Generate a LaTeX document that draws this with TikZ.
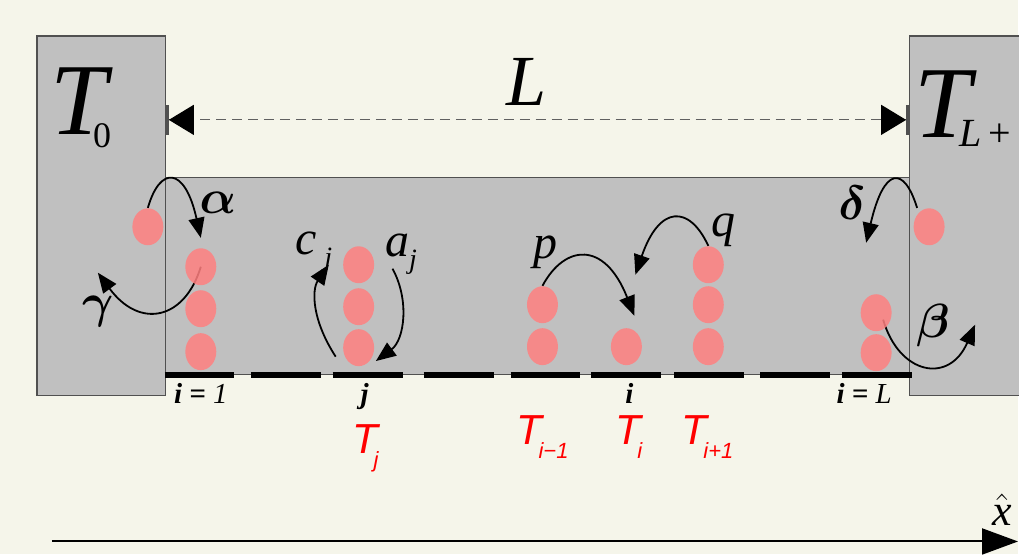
\RequirePackage{fix-cm}
\documentclass[tikz,border=0pt]{standalone}
\usepackage{fontspec}
\usepackage{bm}
\usetikzlibrary{arrows.meta, shapes.geometric, backgrounds}

\newfontfamily\arialfont{Liberation Sans}
\newfontfamily\timesfont{Liberation Serif}

\definecolor{paper}{HTML}{F5F5EA}
\definecolor{resgray}{HTML}{C0C0C0}
\definecolor{edgegray}{HTML}{505050}
\definecolor{dimgray}{HTML}{606060}
\definecolor{dotpink}{HTML}{FF8080}

%% red site temperature with lowered index
\newcommand{\tempT}[1]{T\kern-2pt\raisebox{-7pt}{\fontsize{11}{11}\selectfont #1}}
%% italic rate with lowered index
\newcommand{\rateidx}[1]{\raisebox{-6pt}{\fontsize{14}{14}\selectfont #1}}

\begin{document}
\begin{tikzpicture}[
  x=0.5pt, y=-0.5pt,
  %% reservoirs and channel
  reservoir/.style={draw=edgegray, fill=resgray, line width=0.6pt},
  %% lattice sites
  sitebar/.style={line width=3pt, draw=black},
  %% particles
  particle/.style={
    ellipse, fill=dotpink, fill opacity=0.85,
    minimum width=15.5pt, minimum height=18.5pt, inner sep=0pt
  },
  %% hopping arrows
  hop/.style={-{Triangle[length=10pt,width=8pt]}, line width=0.9pt},
  %% length of the chain
  dimarr/.style={
    draw=dimgray, dash pattern=on 5pt off 3pt, line width=0.6pt,
    {Bar[width=15pt,line width=1.5pt,color=edgegray]Triangle[length=12.5pt,width=15pt,color=black]}-{Triangle[length=12.5pt,width=15pt,color=black]Bar[width=15pt,line width=1.5pt,color=edgegray]}
  },
  %% x axis
  axisarr/.style={-{Triangle[length=18pt,width=13pt]}, line width=1pt},
  %% labels
  biglab/.style={inner sep=0pt, font=\timesfont\itshape\fontsize{51}{51}\selectfont},
  ratelab/.style={inner sep=0pt, font=\fontsize{24}{24}\selectfont},
  varlab/.style={inner sep=0pt, font=\timesfont\itshape\fontsize{24}{24}\selectfont},
  sitelab/.style={inner sep=0pt, font=\timesfont\itshape\fontsize{14.5}{14.5}\selectfont},
  templab/.style={inner sep=0pt, text=red, font=\arialfont\itshape\fontsize{21}{21}\selectfont}
]

%% ================================================================
%% RESERVOIRS AND CHANNEL
%% ================================================================
\begin{pgfonlayer}{background}
\fill[paper] (0,0) rectangle (1019,555);
\useasboundingbox (0,0) rectangle (1019,555);

\draw[reservoir] (166,178) rectangle (910,375);
\draw[reservoir] (37,36) rectangle (166,396);
\draw[reservoir] (910,36) rectangle (1030,396);

%% sites i = 1 ... L
\draw[sitebar] (165,375) -- (234,375) (251,375) -- (321,375)
  (333,375) -- (403,375) (424,375) -- (494,375) (511,375) -- (581,375)
  (592,375) -- (662,375) (675,375) -- (745,375) (761,375) -- (831,375)
  (843,375) -- (913,375);
\end{pgfonlayer}

%% ================================================================
%% PARTICLES
%% ================================================================
\node[particle] (w0) at (148,227) {};
\node[particle] (c1a) at (201,267) {};
\node[particle] (c1b) at (201,309) {};
\node[particle] (c1c) at (201,352) {};

\node[particle] (cj1) at (359,265) {};
\node[particle] (cj2) at (359,307) {};
\node[particle] (cj3) at (359,348) {};

\node[particle] (cim1) at (543,305) {};
\node[particle] (cim2) at (543,347) {};

\node[particle] (ci1) at (627,347) {};

\node[particle] (cip1) at (709,265) {};
\node[particle] (cip2) at (709,305) {};
\node[particle] (cip3) at (709,347) {};

\node[particle] (cL1) at (877,313) {};
\node[particle] (cL2) at (877,353) {};

\node[particle] (e0) at (930,227) {};

%% ================================================================
%% HOPPING
%% ================================================================
\coordinate (gtip) at (98,273);
\coordinate (ctail) at (336,357);
\coordinate (qtip) at (636,275);
\coordinate (dtip) at (867,243);
\coordinate (btip) at (976,325);

\begin{pgfonlayer}{background}
\draw[hop] (w0.north) .. controls (160,166) and (185,166) .. ([yshift=5pt]c1a.north);
\draw[hop] (c1a.center) .. controls (185,320) and (140,330) .. (gtip);
\draw[hop] (ctail) .. controls (312,320) and (312,290) .. ([xshift=-7pt]cj1.west);
\draw[hop] ([xshift=9pt,yshift=-2pt]cj1.east) .. controls (410,300) and (405,340) .. ([xshift=3pt]cj3.south east);
\draw[hop] (cim1.north) .. controls (565,245) and (605,240) .. ([xshift=4pt,yshift=6pt]ci1.north);
\draw[hop] (cip1.north) .. controls (690,205) and (660,205) .. (qtip);
\draw[hop] ([xshift=-6pt]e0.north) .. controls (905,166) and (885,166) .. (dtip);
\draw[hop] ([xshift=3.5pt,yshift=-3.5pt]cL1.center) .. controls (900,375) and (950,385) .. (btip);
\end{pgfonlayer}

\node[ratelab] (alab) at (218,203) {$\bm{\alpha}$};
\node[ratelab] (glab) at (98,312) {$\bm{\gamma}$};
\node[varlab, anchor=base west] (cjlab) at (295,255) {c\,\rateidx{j}};
\node[varlab, anchor=base west] (ajlab) at (385,257) {a\rateidx{j}};
\node[varlab, anchor=base west] (plab) at (534,259) {p};
\node[varlab, anchor=base west] (qlab) at (712,237) {q};
\node[ratelab] (dlab) at (853,203) {$\bm{\delta}$};
\node[ratelab] (blab) at (934,326) {$\bm{\beta}$};

%% ================================================================
%% RESERVOIR TEMPERATURES AND LENGTH
%% ================================================================
\node[biglab, anchor=base west] (T0lab) at (50,135)
  {T\kern-7pt\raisebox{-6.5pt}{\upshape\fontsize{18}{18}\selectfont 0}};
\node[biglab, anchor=base west] (TLlab) at (915,138)
  {T\kern-6pt\raisebox{-4.5pt}{\fontsize{20}{20}\selectfont L\,\upshape +}};

\coordinate (dimL) at (166,120);
\coordinate (dimR) at (910,120);
\draw[dimarr] (dimL) -- (dimR);
\node[varlab, font=\timesfont\itshape\fontsize{36}{36}\selectfont] (Llab) at (527,82) {L};

%% ================================================================
%% SITE LABELS
%% ================================================================
\node[sitelab, anchor=base] (s1) at (201,404) {{\bfseries i =} 1};
\node[sitelab, anchor=base] (sj) at (365,404) {\bfseries j};
\node[sitelab, anchor=base] (si) at (630,404) {\bfseries i};
\node[sitelab, anchor=base] (sL) at (865,404) {{\bfseries i =} L};

\node[templab, anchor=base west] (Tj) at (352,454) {\tempT{j}};
\node[templab, anchor=base west] (Tim) at (517,445) {\tempT{i−1}};
\node[templab, anchor=base west] (Ti) at (616,445) {\tempT{i}};
\node[templab, anchor=base west] (Tip) at (682,445) {\tempT{i+1}};

%% ================================================================
%% AXIS
%% ================================================================
\coordinate (xa0) at (52,542);
\coordinate (xa1) at (1019,542);
\draw[axisarr] (xa0) -- (xa1);
\node[inner sep=0pt, anchor=base, font=\fontsize{22}{22}\selectfont] (xhat) at (1003,526)
  {$\hat{\mbox{\timesfont\itshape x}}$};

\end{tikzpicture}
\end{document}
